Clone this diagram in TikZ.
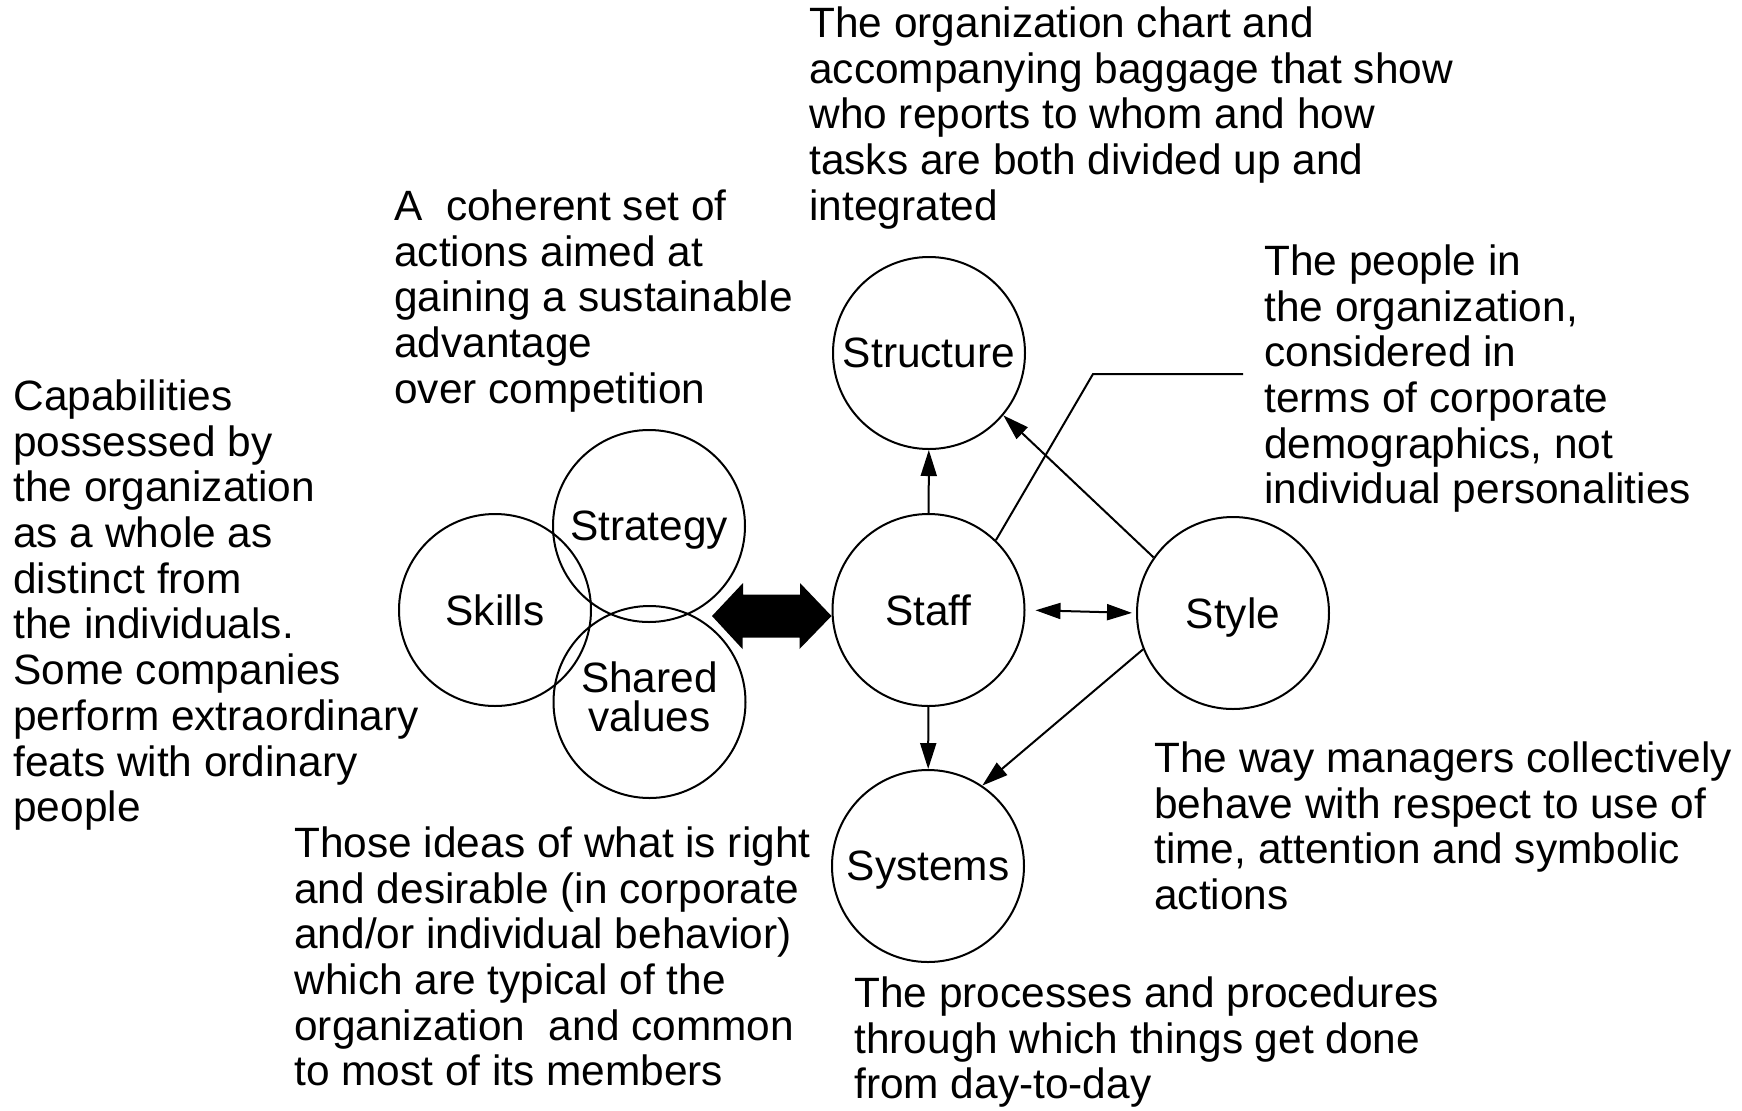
\documentclass[tikz,border=0pt]{standalone}
\usepackage{fontspec}
\setmainfont{Liberation Sans}
\usetikzlibrary{arrows.meta}
\newcommand\descfont{\fontsize{21.2pt}{22.85pt}\selectfont}
\newcommand\firstline{\rule{0pt}{16pt}}
\begin{document}
\begin{tikzpicture}[x=0.5pt,y=-0.5pt,
  every node/.style={inner sep=0pt},
  circ/.style={circle, draw, line width=1pt, minimum size=96pt, font=\descfont},
  sblock/.style={circ, text depth=0pt},
  desc/.style={anchor=north west, align=left, font=\descfont},
  conn/.style={line width=1pt, -{Triangle[length=13pt,width=8pt]}},
  lead/.style={line width=1pt}]
\useasboundingbox (0,0) rectangle (1742,1110);

% circles
\node[sblock] (structure) at (929,353) {Structure};
\node[sblock] (staff) at (928.5,610) {Staff};
\node[sblock] (style) at (1233,613) {Style};
\node[sblock] (systems) at (928,866) {Systems};
\node[sblock] (skills) at (495,610) {Skills};
\node[sblock] (strategy) at (649,526) {Strategy};
\node[circ, align=center, font=\fontsize{21.2pt}{19.4pt}\selectfont] (shared) at (649.5,702) {Shared\\values\rule[-5.4pt]{0pt}{5.4pt}};

% descriptions
\node[desc] (tStructure) at (809,5) {\firstline The organization chart and\\accompanying baggage that show\\who reports to whom and how\\tasks are both divided up and\\integrated};
\node[desc] (tStrategy) at (394,188) {\firstline A\ \ coherent set of\\actions aimed at\\gaining a sustainable\\advantage\\over competition};
\node[desc] (tSkills) at (13,378) {\firstline Capabilities\\possessed by\\the organization\\as a whole as\\distinct from\\the individuals.\\Some companies\\perform extraordinary\\feats with ordinary\\people};
\node[desc] (tStaff) at (1264,243) {\firstline The people in\\the organization,\\considered in\\terms of corporate\\demographics, not\\individual personalities};
\node[desc] (tStyle) at (1154,740) {\firstline The way managers collectively\\behave with respect to use of\\time, attention and symbolic\\actions};
\node[desc] (tShared) at (294,825) {\firstline Those ideas of what is right\\and desirable (in corporate\\and/or individual behavior)\\which are typical of the\\organization\ \ and common\\to most of its members};
\node[desc] (tSystems) at (854,975) {\firstline The processes and procedures\\through which things get done\\from day-to-day};

% connectors
\draw[conn] (staff) -- (structure);
\draw[conn] (style.145) -- (structure.-40);
\draw[conn] (staff) -- (systems);
\draw[conn] (style.202) -- (systems.56);
\draw[line width=1pt, {Triangle[length=12.5pt,width=8pt]}-{Triangle[length=12.5pt,width=8pt]}, shorten <=5pt, shorten >=2pt] (staff.east) -- (style.west);

% leader line from Staff to its description
\coordinate (lbend) at (1093,374);
\coordinate (lend) at (1243,374);
\draw[lead] (staff.46) -- (lbend) -- (lend);

% big double arrow between the soft S cluster and Staff
\coordinate (dal) at (712,616);
\coordinate (dar) at ([yshift=-3pt]staff.west);
\fill (dal) -- ++(31,-33) -- ++(0,11.5) -- ++(57,0) -- ++(0,-11.5) -- (dar)
  -- ++(-32,33) -- ++(0,-11.5) -- ++(-57,0) -- ++(0,11.5) -- cycle;
\end{tikzpicture}
\end{document}
